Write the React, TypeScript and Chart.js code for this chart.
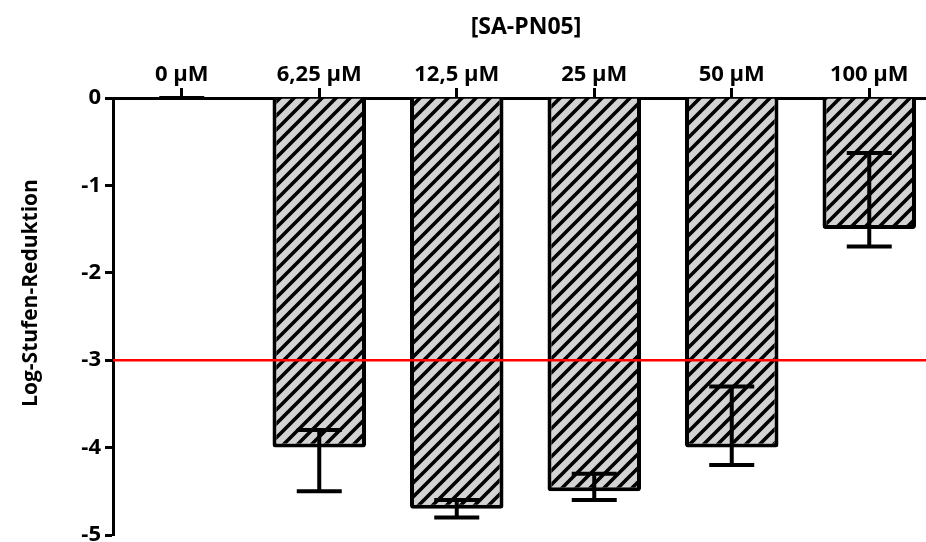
import React, { useEffect, useRef } from 'react';
import { Chart, registerables } from 'chart.js';

Chart.register(...registerables);

// Concentrations of SA-PN05 and the measured log reduction per concentration
const categories = ['0 µM', '6,25 µM', '12,5 µM', '25 µM', '50 µM', '100 µM'];
const meanReduction = [0, -4.0, -4.7, -4.5, -4.0, -1.5];
const errorUpper = [0, -3.8, -4.6, -4.3, -3.3, -0.63];
const errorLower = [0, -4.5, -4.8, -4.6, -4.2, -1.7];
const yTicks = [0, -1, -2, -3, -4, -5];
const thresholdLine = -3;
const xTitle = '[SA-PN05]';
const yTitle = 'Log-Stufen-Reduktion';

const FONT = '"Open Sans", "DejaVu Sans", sans-serif';

function makeHatch(): CanvasPattern | string {
  const size = 14;
  const tile = document.createElement('canvas');
  tile.width = size;
  tile.height = size;
  const c = tile.getContext('2d');
  if (!c) return '#d3d3d3';
  c.fillStyle = '#d3d3d3';
  c.fillRect(0, 0, size, size);
  c.strokeStyle = '#000';
  c.lineWidth = 3.6;
  c.beginPath();
  c.moveTo(-size / 2, size / 2);
  c.lineTo(size / 2, -size / 2);
  c.moveTo(0, size);
  c.lineTo(size, 0);
  c.moveTo(size / 2, size * 1.5);
  c.lineTo(size * 1.5, size / 2);
  c.stroke();
  return c.createPattern(tile, 'repeat') || '#d3d3d3';
}

// Threshold line, error bars and free-standing titles
const overlayPlugin = {
  id: 'overlay',
  afterDatasetsDraw(chart: any) {
    const { ctx, chartArea } = chart;
    const y = chart.scales.y;

    // red -3 log threshold
    const yt = y.getPixelForValue(thresholdLine);
    ctx.save();
    ctx.strokeStyle = '#ff0000';
    ctx.lineWidth = 2.5;
    ctx.beginPath();
    ctx.moveTo(chartArea.left, yt);
    ctx.lineTo(chartArea.right, yt);
    ctx.stroke();
    ctx.restore();

    // error bars
    const meta = chart.getDatasetMeta(0);
    const capHalf = 22.5;
    ctx.save();
    ctx.strokeStyle = '#000';
    ctx.lineWidth = 4;
    ctx.lineCap = 'butt';
    meta.data.forEach((bar: any, i: number) => {
      const cx = bar.x;
      const yHi = y.getPixelForValue(errorUpper[i]);
      const yLo = y.getPixelForValue(errorLower[i]);
      ctx.beginPath();
      if (yLo - yHi > 0.5) {
        ctx.moveTo(cx, yHi);
        ctx.lineTo(cx, yLo);
      }
      ctx.moveTo(cx - capHalf, yHi);
      ctx.lineTo(cx + capHalf, yHi);
      ctx.moveTo(cx - capHalf, yLo);
      ctx.lineTo(cx + capHalf, yLo);
      ctx.stroke();
    });
    ctx.restore();
  },
  afterDraw(chart: any) {
    const { ctx } = chart;
    ctx.save();
    ctx.fillStyle = '#000';
    ctx.font = `bold 23px ${FONT}`;
    ctx.textAlign = 'center';
    ctx.textBaseline = 'alphabetic';
    ctx.fillText(xTitle, 526, 34);

    ctx.translate(31, 293);
    ctx.rotate(-Math.PI / 2);
    ctx.font = `bold 21px ${FONT}`;
    ctx.textBaseline = 'middle';
    ctx.fillText(yTitle, 0, 0);
    ctx.restore();
  },
};

export default function App() {
  const canvasRef = useRef<HTMLCanvasElement | null>(null);

  useEffect(() => {
    const canvas = canvasRef.current;
    if (!canvas) return;
    let chart: Chart | null = null;
    let cancelled = false;

    const build = () => {
      if (cancelled) return;
      chart = new Chart(canvas, {
        type: 'bar',
        data: {
          labels: categories,
          datasets: [
            {
              data: meanReduction,
              backgroundColor: makeHatch() as any,
              borderColor: '#000',
              borderWidth: 4,
              borderRadius: 3,
              borderSkipped: 'start',
              barPercentage: 0.68,
              categoryPercentage: 1,
            },
          ],
        },
        options: {
          responsive: false,
          animation: false,
          devicePixelRatio: 1,
          layout: { padding: { left: 0, top: 0, right: 22, bottom: 7 } },
          plugins: {
            legend: { display: false },
            tooltip: { enabled: false },
            title: { display: false },
          },
          scales: {
            x: {
              type: 'category',
              position: 'top',
              offset: true,
              grid: {
                offset: false,
                drawOnChartArea: false,
                drawTicks: true,
                tickLength: 10,
                tickWidth: 3,
                tickColor: '#000',
              },
              border: { display: true, color: '#000', width: 3 },
              ticks: {
                color: '#000',
                font: { family: FONT, weight: 'bold', size: 22 },
                padding: 0,
                maxRotation: 0,
                autoSkip: false,
              },
              afterFit(scale: any) {
                scale.height = 98;
                scale.paddingLeft = 0;
                scale.paddingRight = 0;
              },
            },
            y: {
              type: 'linear',
              min: -5,
              max: 0,
              grid: {
                drawOnChartArea: false,
                drawTicks: true,
                tickLength: 8,
                tickWidth: 3,
                tickColor: '#000',
              },
              border: { display: true, color: '#000', width: 3 },
              afterBuildTicks(scale: any) {
                scale.ticks = yTicks.map((v) => ({ value: v }));
              },
              ticks: {
                color: '#000',
                font: { family: FONT, weight: 'bold', size: 22 },
                padding: 4,
                callback: (v: any) => String(v),
              },
              afterFit(scale: any) {
                scale.width = 113;
                scale.paddingTop = 0;
                scale.paddingBottom = 0;
              },
            },
          },
        },
        plugins: [overlayPlugin],
      });
    };

    const fonts = (document as any).fonts;
    if (fonts && fonts.load) {
      Promise.all([
        fonts.load(`bold 22px ${FONT}`),
        fonts.load(`bold 21px ${FONT}`),
      ])
        .catch(() => undefined)
        .then(build);
    } else {
      build();
    }

    return () => {
      cancelled = true;
      if (chart) chart.destroy();
    };
  }, []);

  return (
    <div
      style={{
        position: 'fixed',
        left: 0,
        top: 0,
        width: 926,
        height: 542,
        overflow: 'hidden',
        background: '#fff',
      }}
    >
      <canvas ref={canvasRef} width={960} height={542} style={{ display: 'block' }} />
    </div>
  );
}
